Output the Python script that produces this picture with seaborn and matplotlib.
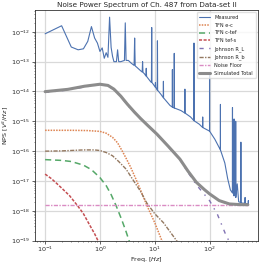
import numpy as np
import seaborn as sns
import matplotlib
matplotlib.use("Agg")
import matplotlib.pyplot as plt

# ---------------- data ---------------- #
meas_f = [0.1, 0.2, 0.3, 0.4, 0.5, 0.6, 0.7, 0.8, 0.9, 1.0, 1.1, 1.2, 1.3, 1.4, 1.5, 1.6, 1.7, 1.8,
          2.0, 2.1, 2.2, 2.4, 2.8, 2.9, 3.0, 3.3, 3.7, 4.2, 4.3, 4.4, 4.7, 5.5, 5.9, 6.0, 6.1, 6.5,
          6.9, 7.0, 7.1, 8.3, 8.7, 8.8, 8.9, 9.5, 10.2, 10.3, 10.4, 11.1, 11.2, 11.3, 13.0, 14.3,
          14.4, 14.5, 19.0, 20.9, 21.0, 21.1, 22.6, 22.7, 22.8, 30.0, 35.4, 35.5, 35.6, 45.0, 51.9,
          52.0, 52.1, 65.0, 74.9, 75.0, 75.1, 99.9, 100.0, 100.1, 125.0, 157.9, 158.0, 158.1,
          190.0, 214.0, 240.0, 250.0, 261.9, 262.0, 262.1, 270.0, 279.9, 280.0, 280.1, 290.0,
          299.9, 300.0, 300.1, 320.0, 340.0, 372.9, 373.0, 373.1, 400.0, 444.9, 445.0, 445.1,
          480.0, 509.9, 510.0, 510.1]
meas_v = [8.6e-13, 1.6e-12, 3.1e-13, 2.5e-13, 2.7e-13, 4.8e-13, 1.5e-12, 6.2e-13, 4.2e-13, 2.2e-13,
          2.9e-13, 1.3e-13, 2.0e-13, 1.4e-13, 3.1e-12, 3.0e-13, 1.5e-13, 1.0e-13,
          1.0e-13, 2.5e-13, 1.0e-13, 1.0e-13, 1.1e-13, 2.0e-12, 1.1e-13, 1.1e-13, 9.0e-14, 7.5e-14,
          6.2e-13, 7.2e-14, 6.5e-14, 5.0e-14, 4.5e-14, 1.0e-13, 4.4e-14, 3.9e-14,
          3.3e-14, 6.0e-14, 3.2e-14, 2.2e-14, 2.0e-14, 1.4e-12, 2.0e-14, 1.7e-14, 1.4e-14, 2.0e-14,
          1.4e-14, 1.1e-14, 5.0e-13, 1.1e-14, 8.0e-15, 6.2e-15,
          2.2e-14, 6.1e-15, 3.4e-15, 3.0e-15, 5.4e-14, 3.0e-15, 2.8e-15, 1.9e-13, 2.8e-15, 2.3e-15,
          1.9e-15, 1.2e-14, 1.9e-15, 1.4e-15, 1.05e-15,
          4.2e-13, 1.05e-15, 8.0e-16, 6.2e-16, 1.4e-15, 6.2e-16, 4.7e-16, 4.0e-14, 4.7e-16, 2.5e-16,
          1.1e-16, 3.7e-15, 1.1e-16,
          4.0e-17, 1.2e-17, 5.0e-18, 4.5e-18, 4.0e-18, 2.9e-15, 4.0e-18, 1.5e-17, 3.2e-18, 1.2e-15,
          3.2e-18, 1.0e-17, 2.8e-18, 1.0e-15, 2.8e-18, 8.0e-18, 2.0e-18, 1.9e-18, 2.0e-16, 1.9e-18,
          1.8e-18, 1.8e-18, 2.8e-18, 1.8e-18,
          1.7e-18, 1.7e-18, 2.2e-18, 1.7e-18]

ec_f = [0.1, 0.3, 0.6, 1.0, 1.3, 1.7, 2.1, 2.6, 3.0, 3.6, 4.5, 5.5, 7.2, 10.0, 13.5, 16.0]
ec_v = [5.0e-16, 5.0e-16, 4.9e-16, 4.6e-16, 4.0e-16, 2.9e-16, 1.9e-16, 9.5e-17, 5.8e-17, 3.0e-17,
        1.2e-17, 5.0e-18, 1.5e-18, 4.0e-19, 1.0e-19, 5.0e-20]

ctef_f = [0.1, 0.2, 0.3, 0.5, 0.7, 1.0, 1.3, 1.6, 2.0, 2.5, 3.0, 3.4, 4.0]
ctef_v = [5.2e-17, 4.9e-17, 4.5e-17, 3.4e-17, 2.4e-17, 1.3e-17, 7.0e-18, 3.5e-18, 1.4e-18, 5.0e-19,
          2.0e-19, 1.0e-19, 5.0e-20]

tefs_f = [0.1, 0.13, 0.16, 0.2, 0.28, 0.4, 0.5, 0.64, 0.8, 0.92, 1.1]
tefs_v = [1.7e-17, 1.2e-17, 8.5e-18, 5.8e-18, 3.2e-18, 1.4e-18, 8.0e-19, 3.5e-19, 1.7e-19, 1.0e-19,
          5.0e-20]

rl_f = [0.1, 0.26, 0.52, 1.0, 1.4, 1.8, 2.4, 3.15, 4.2, 5.5, 7.5, 11.0, 18.0, 28.8, 40.0, 57.6,
        80.0, 100.0, 140.0, 200.0, 240.0]
rl_v = [9.3e-15, 1.12e-14, 1.42e-14, 1.7e-14, 1.55e-14, 1.15e-14, 6.8e-15, 3.6e-15, 2.0e-15,
        1.2e-15, 7.0e-16, 3.6e-16, 1.35e-16, 5.2e-17, 2.0e-17, 7.4e-18, 3.6e-18, 2.2e-18, 7.4e-19,
        1.5e-19, 8.0e-20]

rb_f = [0.1, 0.2, 0.5, 0.8, 1.0, 1.3, 1.7, 2.2, 3.0, 4.0, 5.5, 7.2, 10.0, 14.4, 25.0, 30.0]
rb_v = [1.0e-16, 1.02e-16, 1.1e-16, 1.1e-16, 1.05e-16, 9.0e-17, 7.0e-17, 4.5e-17, 2.5e-17, 1.1e-17,
        4.5e-18, 1.8e-18, 8.0e-19, 4.0e-19, 1.0e-19, 7.0e-20]

floor_f = [0.1, 500.0]
floor_v = [1.6e-18, 1.6e-18]

tot_f = [0.1, 0.26, 0.52, 1.0, 1.4, 1.8, 2.4, 3.15, 4.2, 5.5, 7.5, 11.0, 18.0, 28.8, 40.0, 57.6,
         80.0, 100.0, 150.0, 230.0, 350.0, 500.0]
tot_v = [9.9e-15, 1.18e-14, 1.5e-14, 1.75e-14, 1.6e-14, 1.2e-14, 7.0e-15, 3.8e-15, 2.1e-15,
         1.25e-15, 7.2e-16, 3.7e-16, 1.4e-16, 5.4e-17, 2.2e-17, 9.0e-18, 5.2e-18, 3.7e-18, 2.2e-18,
         1.7e-18, 1.62e-18, 1.6e-18]

y_ticks = [1e-19, 1e-18, 1e-17, 1e-16, 1e-15, 1e-14, 1e-13, 1e-12]
x_ticks = [0.1, 1, 10, 100]

# --------------------------- plot ----------------------------- #
sns.set_theme(style="whitegrid", rc={"axes.edgecolor": "0.2", "axes.linewidth": 0.6,
                                     "xtick.bottom": True, "ytick.left": True,
                                     "grid.color": "0.85", "grid.linewidth": 0.9})
plt.rcParams['font.family'] = ['DejaVu Sans']

fig, ax = plt.subplots(figsize=(2.63, 2.63), dpi=100)
fig.subplots_adjust(left=0.133, right=0.981, bottom=0.085, top=0.962)

sns.lineplot(x=meas_f, y=meas_v, ax=ax, color="C0", lw=0.8, label="Measured", sort=False)
sns.lineplot(x=ec_f, y=ec_v, ax=ax, color="C1", lw=1.1, ls=(0, (1, 0.8)), label="TFN e-c")
sns.lineplot(x=ctef_f, y=ctef_v, ax=ax, color="C2", lw=1.1, ls=(0, (4, 2.5)), label="TFN c-tef")
sns.lineplot(x=tefs_f, y=tefs_v, ax=ax, color="C3", lw=1.1, ls=(0, (2, 1)), label="TFN tef-s")
sns.lineplot(x=rl_f, y=rl_v, ax=ax, color="C4", lw=1.0, ls=(0, (3, 4, 1, 4)), label="Johnson R_L")
sns.lineplot(x=rb_f, y=rb_v, ax=ax, color="C5", lw=1.0, ls=(0, (3, 1, 1, 1)), label="Johnson R_b")
sns.lineplot(x=floor_f, y=floor_v, ax=ax, color="C6", lw=1.0, ls=(0, (3, 1, 1, 1)), label="Noise Floor")
sns.lineplot(x=tot_f, y=tot_v, ax=ax, color="C7", lw=2.2, label="Simulated Total")

ax.set_xscale("log")
ax.set_yscale("log")
ax.set_xlim(10 ** -1.185, 10 ** 2.884)
ax.set_ylim(1e-19, 5.4e-12)
ax.set_yticks(y_ticks)
ax.set_xticks(x_ticks)
ax.set_title("Noise Power Spectrum of Ch. 487 from Data-set II", fontsize=5.2, pad=2.5)
ax.set_xlabel("Freq. [$Hz$]", fontsize=4.6, labelpad=0.5)
ax.set_ylabel("NPS [$V^2/Hz$]", fontsize=4.6, labelpad=1)
ax.tick_params(axis="both", which="major", labelsize=4.6, length=2, width=0.5, pad=1.2)
ax.tick_params(axis="both", which="minor", length=1, width=0.4)
ax.grid(True, which="major")
ax.grid(False, which="minor")
ax.legend(loc="upper right", fontsize=3.6, handlelength=2.2, labelspacing=0.55,
          borderpad=0.5, frameon=True, fancybox=True, framealpha=0.8, edgecolor="0.85")

fig.savefig("out.png", dpi=100)
